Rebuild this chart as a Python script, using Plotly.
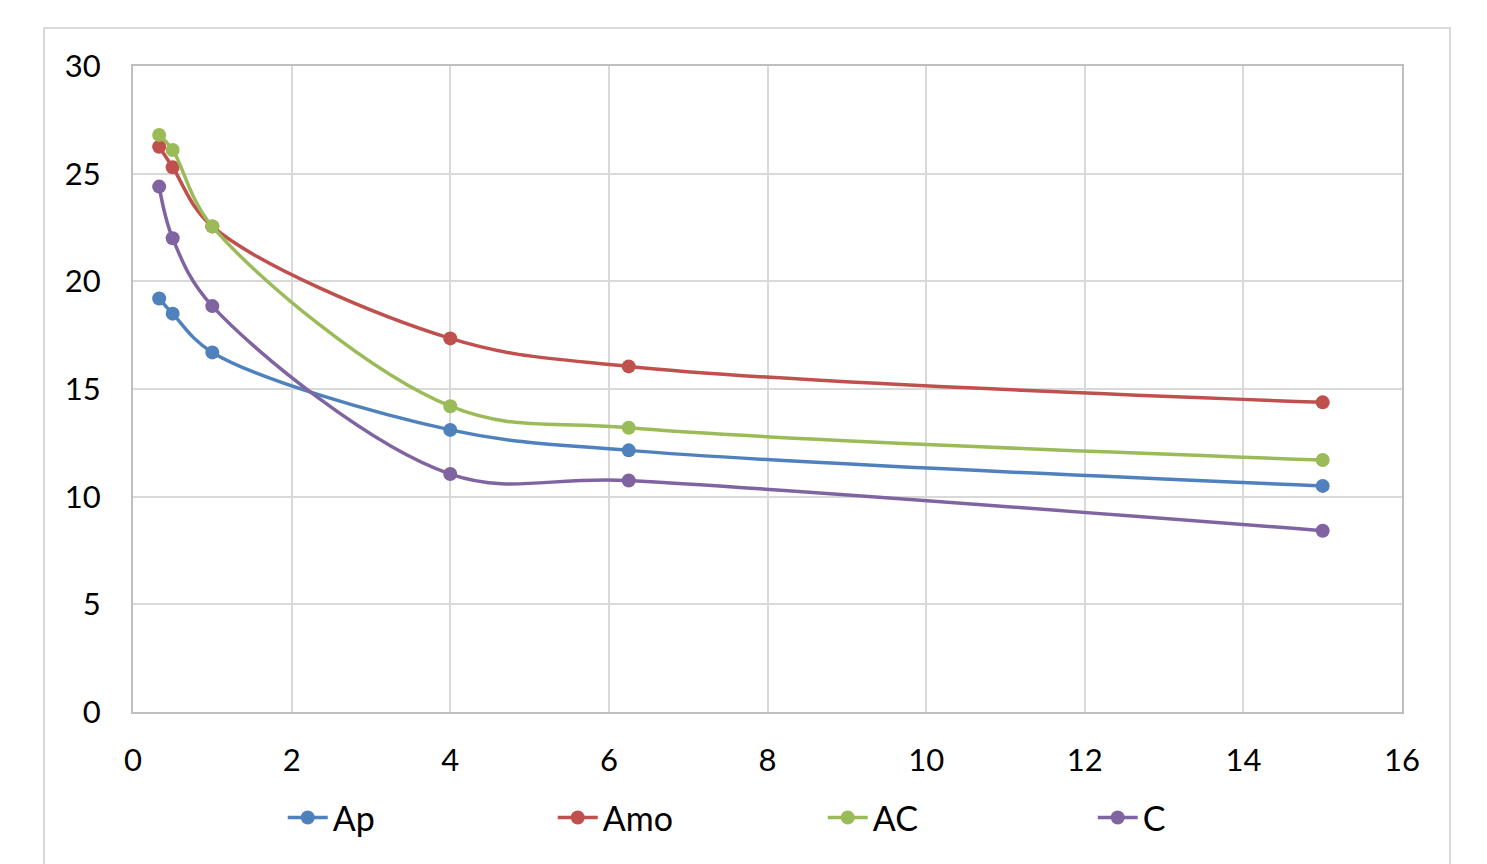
import plotly.graph_objects as go

x_vals = [0.33, 0.5, 1, 4, 6.25, 15]
ap = [19.2, 18.5, 16.7, 13.1, 12.15, 10.5]
amo = [26.25, 25.3, 22.55, 17.35, 16.05, 14.38]
ac = [26.8, 26.1, 22.55, 14.2, 13.2, 11.7]
c = [24.4, 22.0, 18.85, 11.05, 10.75, 8.42]

names = ["Ap", "Amo", "AC", "C"]
series = [ap, amo, ac, c]
colors = ["#4F81BD", "#C0504D", "#9BBB59", "#8064A2"]

fig = go.Figure()
for n, s, col in zip(names, series, colors):
    fig.add_trace(go.Scatter(
        x=x_vals, y=s, name=n, mode="lines+markers",
        line=dict(color=col, width=3.5, shape="spline", smoothing=1.0),
        marker=dict(color=col, size=14),
    ))

font_family = "Lato, Carlito, Calibri, sans-serif"
fig.update_layout(
    width=1487, height=864,
    margin=dict(l=133, r=85, t=66, b=152),
    paper_bgcolor="white", plot_bgcolor="white",
    font=dict(family=font_family, size=31, color="black"),
    showlegend=True,
    legend=dict(orientation="h", x=0.118, xanchor="left", y=-0.164, yanchor="middle",
                entrywidth=215, entrywidthmode="pixels", font=dict(size=34),
                itemwidth=40),
    xaxis=dict(range=[0, 16], dtick=2, tick0=0, showgrid=True, gridcolor="#D9D9D9",
               gridwidth=1.5, zeroline=False, showline=True, linecolor="#BFBFBF",
               linewidth=2, mirror=True, ticks="", ticklabelstandoff=20),
    yaxis=dict(range=[0, 30], dtick=5, tick0=0, showgrid=True, gridcolor="#D9D9D9",
               gridwidth=1.5, zeroline=False, showline=True, linecolor="#BFBFBF",
               linewidth=2, mirror=True, ticks="", ticklabelstandoff=24),
    shapes=[dict(type="rect", xref="paper", yref="paper",
                 x0=(44 - 133) / 1269, x1=(1450 - 133) / 1269,
                 y0=(712 - 880) / 646, y1=(712 - 28) / 646,
                 line=dict(color="#D9D9D9", width=2), layer="below")],
)

fig.write_html("out.html")
